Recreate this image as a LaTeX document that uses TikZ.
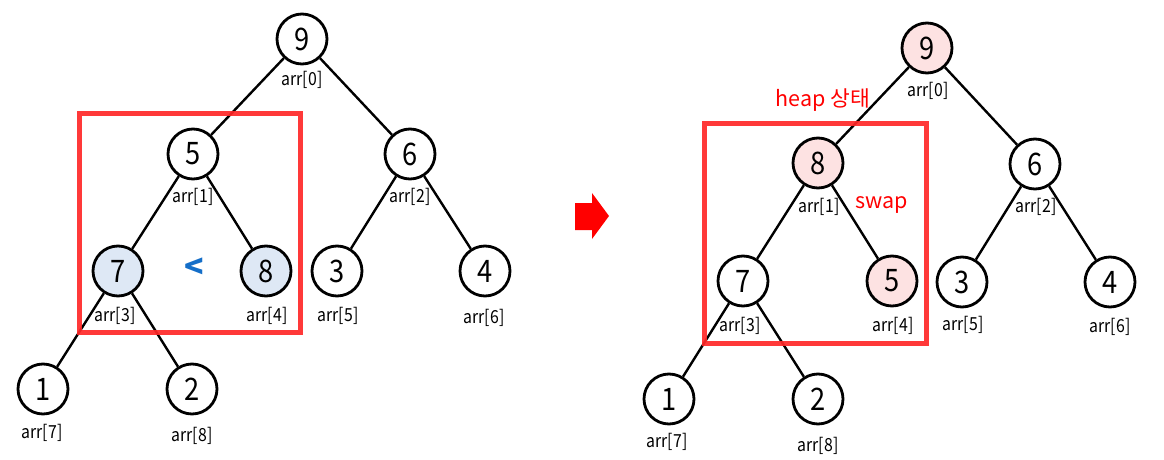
\documentclass[tikz,border=0pt]{standalone}
\usepackage{fontspec}
\setmainfont{Noto Sans CJK KR}
\newfontfamily\narrowfont[FakeStretch=0.88]{Noto Sans CJK KR}
\definecolor{boxred}{RGB}{255,40,40}
\definecolor{fillblue}{RGB}{222,232,245}
\definecolor{fillpink}{RGB}{253,226,226}
\definecolor{ltblue}{RGB}{20,110,200}
\begin{document}
\begin{tikzpicture}[x=1pt,y=-1pt,
  hnode/.style={circle, draw=black, line width=2.8pt, minimum size=50pt, inner sep=0pt, fill=white,
    font=\narrowfont\fontsize{31}{31}\selectfont},
  bluenode/.style={hnode, fill=fillblue},
  pinknode/.style={hnode, fill=fillpink},
  idx/.style={inner sep=0pt, font=\narrowfont\fontsize{18}{18}\selectfont},
  edge/.style={line width=2.4pt},
  redbox/.style={draw=boxred, line width=5pt, opacity=0.92},
  redtext/.style={inner sep=0pt, text=red, font=\fontsize{21.5}{21.5}\selectfont}]
\useasboundingbox (0,0) rectangle (1164,460);
% ---------- left tree ----------
\node[hnode] (a0) at (302,39) {9};
\node[hnode] (a1) at (193,154) {5};
\node[hnode] (a2) at (410,154) {6};
\node[bluenode] (a3) at (118,271) {7};
\node[bluenode] (a4) at (266,271) {8};
\node[hnode] (a5) at (337,271) {3};
\node[hnode] (a6) at (485,271) {4};
\node[hnode] (a7) at (43,389) {1};
\node[hnode] (a8) at (192,389) {2};
\draw[edge] (a0) -- (a1);
\draw[edge] (a0) -- (a2);
\draw[edge] (a1) -- (a3);
\draw[edge] (a1) -- (a4);
\draw[edge] (a2) -- (a5);
\draw[edge] (a2) -- (a6);
\draw[edge] (a3) -- (a7);
\draw[edge] (a3) -- (a8);
\node[idx] (la0) at (302,80) {arr[0]};
\node[idx] (la1) at (193,197) {arr[1]};
\node[idx] (la2) at (410,197) {arr[2]};
\node[idx] (la3) at (115,316) {arr[3]};
\node[idx] (la4) at (267,316) {arr[4]};
\node[idx] (la5) at (338,316) {arr[5]};
\node[idx] (la6) at (484,318) {arr[6]};
\node[idx] (la7) at (42,433) {arr[7]};
\node[idx] (la8) at (192,436) {arr[8]};
\node[inner sep=0pt, text=ltblue, font=\bfseries\fontsize{32}{32}\selectfont] (lt) at (194,268) {<};
\node[redbox, minimum width=221pt, minimum height=219pt, inner sep=0pt] (lbox) at (189.5,223) {};
% ---------- arrow ----------
\fill[red] (575,203) coordinate (ar1) -- (592,203) -- (592,193) -- (609,216) coordinate (artip) -- (592,239) -- (592,230) -- (575,230) -- cycle;
% ---------- right tree ----------
\node[pinknode] (b0) at (927,48) {9};
\node[pinknode] (b1) at (818,163) {8};
\node[hnode] (b2) at (1035,164) {6};
\node[hnode] (b3) at (743,281) {7};
\node[pinknode] (b4) at (892,281) {5};
\node[hnode] (b5) at (962,282) {3};
\node[hnode] (b6) at (1110,282) {4};
\node[hnode] (b7) at (669,399) {1};
\node[hnode] (b8) at (818,399) {2};
\draw[edge] (b0) -- (b1);
\draw[edge] (b0) -- (b2);
\draw[edge] (b1) -- (b3);
\draw[edge] (b1) -- (b4);
\draw[edge] (b2) -- (b5);
\draw[edge] (b2) -- (b6);
\draw[edge] (b3) -- (b7);
\draw[edge] (b3) -- (b8);
\node[idx] (lb0) at (928,91) {arr[0]};
\node[idx] (lb1) at (819,207) {arr[1]};
\node[idx] (lb2) at (1036,207) {arr[2]};
\node[idx] (lb3) at (740,326) {arr[3]};
\node[idx] (lb4) at (893,326) {arr[4]};
\node[idx] (lb5) at (963,325) {arr[5]};
\node[idx] (lb6) at (1110,327) {arr[6]};
\node[idx] (lb7) at (667,442) {arr[7]};
\node[idx] (lb8) at (818,446) {arr[8]};
\node[redtext] (heap) at (823,100) {heap 상태};
\node[redtext] (swap) at (882,205) {swap};
\node[redbox, minimum width=222pt, minimum height=220pt, inner sep=0pt] (rbox) at (815.5,233) {};
\end{tikzpicture}
\end{document}
